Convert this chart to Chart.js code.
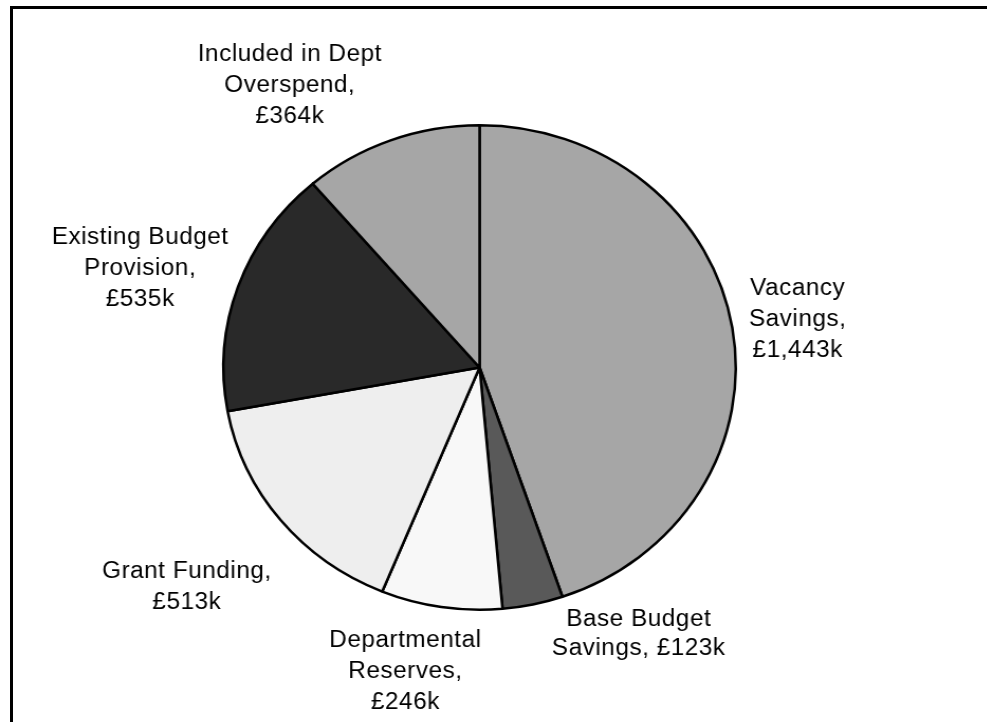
<!DOCTYPE html>
<html>
<head>
<meta charset="utf-8">
<script src="https://cdn.jsdelivr.net/npm/chart.js@4/dist/chart.umd.min.js"></script>
<style>
  html, body { margin: 0; padding: 0; background: #fff; overflow: hidden; }
  #frame { position: absolute; left: 10px; top: 6px; width: 2000px; height: 2000px;
           border-left: 3px solid #000; border-top: 3px solid #000; }
  /* the original picture is stretched a little horizontally */
  #wrap { position: absolute; left: 0; top: 0; width: 934px; height: 722px;
          transform: scaleX(1.0575); transform-origin: 0 0; }
</style>
</head>
<body>
<div id="frame"></div>
<div id="wrap"><canvas id="pieChart" width="934" height="722"></canvas></div>
<script>
// data
var categories = ['Vacancy Savings', 'Base Budget Savings', 'Departmental Reserves',
                  'Grant Funding', 'Existing Budget Provision', 'Included in Dept Overspend'];
var values = [1443, 123, 246, 513, 535, 364];
var labelLines = [
  ['Vacancy', 'Savings,', '£1,443k'],
  ['Base Budget', 'Savings, £123k'],
  ['Departmental', 'Reserves,', '£246k'],
  ['Grant Funding,', '£513k'],
  ['Existing Budget', 'Provision,', '£535k'],
  ['Included in Dept', 'Overspend,', '£364k']
];
var sliceColors = ['#a6a6a6', '#595959', '#f8f8f8', '#eeeeee', '#292929', '#a6a6a6'];

// label placement tweaks (px), like Excel's best fit
var labelNudge = [[2, 2], [80, -13], [-21, 4], [-15, 38], [0, 2], [-60, 3]];

// draws the data labels outside the slices
var outsideLabels = {
  id: 'outsideLabels',
  afterDatasetsDraw: function (chart) {
    var ctx = chart.ctx;
    var arcs = chart.getDatasetMeta(0).data;
    ctx.save();
    ctx.font = '23px "Liberation Sans", Arial, sans-serif';
    ctx.letterSpacing = '0.5px';
    ctx.fillStyle = '#000';
    ctx.textAlign = 'center';
    ctx.textBaseline = 'middle';
    var lineH = 31;
    arcs.forEach(function (arc, i) {
      var p = arc.getProps(['x', 'y', 'startAngle', 'endAngle', 'outerRadius'], true);
      var mid = (p.startAngle + p.endAngle) / 2;
      var r = p.outerRadius * 1.06;
      var ax = p.x + Math.cos(mid) * r;
      var ay = p.y + Math.sin(mid) * r;
      var lines = labelLines[i];
      var lh = lines.length == 2 && i == 1 ? 29 : lineH; // Excel packs this one tighter
      var w = Math.max.apply(null, lines.map(function (t) { return ctx.measureText(t).width; }));
      var h = lines.length * lh;
      var cx = ax + Math.cos(mid) * w / 2 + labelNudge[i][0];
      var cy = ay + Math.sin(mid) * h / 2 + labelNudge[i][1];
      lines.forEach(function (t, j) {
        ctx.fillText(t, cx, cy + (j - (lines.length - 1) / 2) * lh);
      });
    });
    ctx.restore();
  }
};

var ctx = document.getElementById('pieChart').getContext('2d');

var pieChart = new Chart(ctx, {
  type: 'pie',
  data: {
    labels: categories,
    datasets: [{
      data: values,
      backgroundColor: sliceColors,
      borderColor: '#000',
      borderWidth: 2.5
    }]
  },
  options: {
    responsive: false,
    animation: false,
    layout: {
      padding: { top: 124, bottom: 111, left: 210, right: 237 }
    },
    plugins: {
      legend: { display: false },
      tooltip: { enabled: false }
    }
  },
  plugins: [outsideLabels]
});
</script>
</body>
</html>
